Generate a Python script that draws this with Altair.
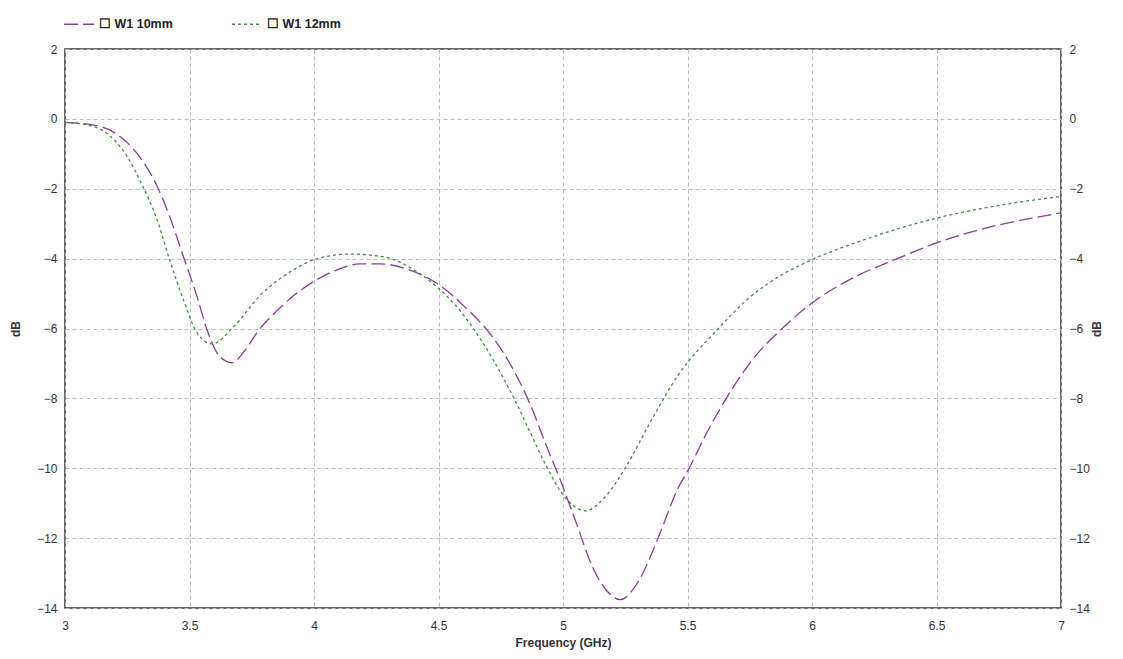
import altair as alt
import pandas as pd

# W1 10mm
f10 = [3.00, 3.11, 3.20, 3.25, 3.30, 3.37, 3.42, 3.475, 3.53, 3.57, 3.62, 3.67,
       3.72, 3.78, 3.85, 3.92, 4.00, 4.08, 4.185, 4.265, 4.37, 4.50, 4.61, 4.72,
       4.80, 4.87, 4.93, 4.99, 5.055, 5.12, 5.175, 5.23, 5.30, 5.38, 5.46, 5.51,
       5.58, 5.66, 5.76, 5.88, 6.00, 6.165, 6.35, 6.50, 6.675, 7.00]
db10 = [-0.10, -0.17, -0.40, -0.68, -1.09, -1.93, -2.79, -3.93, -5.08, -6.03, -6.79, -6.98,
        -6.65, -6.03, -5.50, -5.05, -4.65, -4.36, -4.15, -4.15, -4.29, -4.74, -5.41, -6.27,
        -7.17, -8.20, -9.30, -10.35, -11.60, -12.85, -13.50, -13.76, -13.27, -12.03, -10.60, -9.95,
        -8.95, -7.95, -6.90, -6.00, -5.27, -4.55, -3.98, -3.55, -3.17, -2.69]

# W1 12mm
f12 = [3.00, 3.11, 3.15, 3.20, 3.25, 3.30, 3.37, 3.42, 3.475, 3.53, 3.59, 3.68, 3.78,
       3.92, 4.00, 4.145, 4.28, 4.41, 4.50, 4.57, 4.64, 4.72, 4.81, 4.87, 4.93,
       5.01, 5.09, 5.16, 5.255, 5.35, 5.46, 5.62, 5.74, 5.87, 6.00, 6.21, 6.50,
       6.74, 7.00]
db12 = [-0.10, -0.21, -0.33, -0.62, -1.08, -1.75, -2.89, -4.03, -5.17, -6.12, -6.44, -5.93, -5.08,
        -4.31, -4.03, -3.87, -3.95, -4.36, -4.85, -5.35, -6.00, -6.90, -8.10, -9.00, -9.90,
        -10.85, -11.22, -10.89, -9.93, -8.69, -7.36, -6.03, -5.17, -4.50, -4.03, -3.46, -2.84,
        -2.49, -2.22]

series_names = ["W1 10mm", "W1 12mm"]
x_ticks = [3, 3.5, 4, 4.5, 5, 5.5, 6, 6.5, 7]
y_ticks = [2, 0, -2, -4, -6, -8, -10, -12, -14]

df = pd.concat([
    pd.DataFrame({"freq": f10, "db": db10, "series": series_names[0]}),
    pd.DataFrame({"freq": f12, "db": db12, "series": series_names[1]}),
])

FONT = "Liberation Sans"
colors = ["#8a3c9c", "#3f8a3f"]
dashes = [[14, 5], [3, 3]]

x_enc = alt.X("freq:Q", scale=alt.Scale(domain=[3, 7], nice=False, zero=False),
              axis=alt.Axis(values=x_ticks, format="~g", title="Frequency (GHz)", grid=True,
                            gridDash=[4, 3], gridColor="#bbbbbb", domain=False,
                            ticks=False, labelPadding=12, titlePadding=6,
                            labelFontSize=12, titleFontSize=12, labelColor="#333333",
                            titleColor="#333333", titleFontWeight="bold", labelFont=FONT,
                            titleFont=FONT, labelFlush=False))

yscale = alt.Scale(domain=[-14, 2], nice=False, zero=False)

lines = alt.Chart(df).mark_line(strokeWidth=1.3, interpolate="monotone").encode(
    x=x_enc,
    y=alt.Y("db:Q", scale=yscale,
            axis=alt.Axis(values=y_ticks, title="dB", grid=True, gridDash=[4, 3],
                          gridColor="#bbbbbb", domain=False, ticks=False,
                          labelPadding=8, titlePadding=14, labelFontSize=12,
                          titleFontSize=12, titleFontWeight="bold", labelColor="#333333",
                          titleColor="#333333", labelFont=FONT, titleFont=FONT,
                          orient="left", labelFlush=False)),
    color=alt.Color("series:N", scale=alt.Scale(domain=series_names, range=colors),
                    legend=alt.Legend(title=None, orient="none", legendX=-2, legendY=-41,
                                      direction="horizontal", symbolType="stroke",
                                      symbolSize=900, symbolStrokeWidth=1.5,
                                      labelExpr="'\u2610 ' + datum.label",
                                      labelFont=FONT, labelFontSize=12.5,
                                      labelFontWeight="bold", labelColor="#222222",
                                      columnPadding=56, labelOffset=4)),
    strokeDash=alt.StrokeDash("series:N", scale=alt.Scale(domain=series_names, range=dashes),
                              legend=None),
    detail="series:N",
)

right = alt.Chart(df).mark_line(opacity=0).encode(
    x=alt.X("freq:Q", scale=alt.Scale(domain=[3, 7], nice=False, zero=False)),
    y=alt.Y("db:Q", scale=yscale,
            axis=alt.Axis(values=y_ticks, title="dB", grid=False, domain=False, ticks=False,
                          labelPadding=8, titlePadding=14, labelFontSize=12,
                          titleFontSize=12, titleFontWeight="bold", labelColor="#333333",
                          titleColor="#333333", labelFont=FONT, titleFont=FONT,
                          orient="right", titleAngle=270, labelFlush=False)),
    detail="series:N",
)

chart = alt.layer(lines, right).resolve_axis(y="independent").properties(
    width=996, height=559,
    autosize=alt.AutoSizeParams(type="none"),
    padding={"left": 57, "top": 41, "right": 54, "bottom": 43},
    background="white",
).configure_view(stroke="#333333", strokeWidth=1.5)

chart.save("out.html", embed_options={"renderer": "svg", "actions": False})
